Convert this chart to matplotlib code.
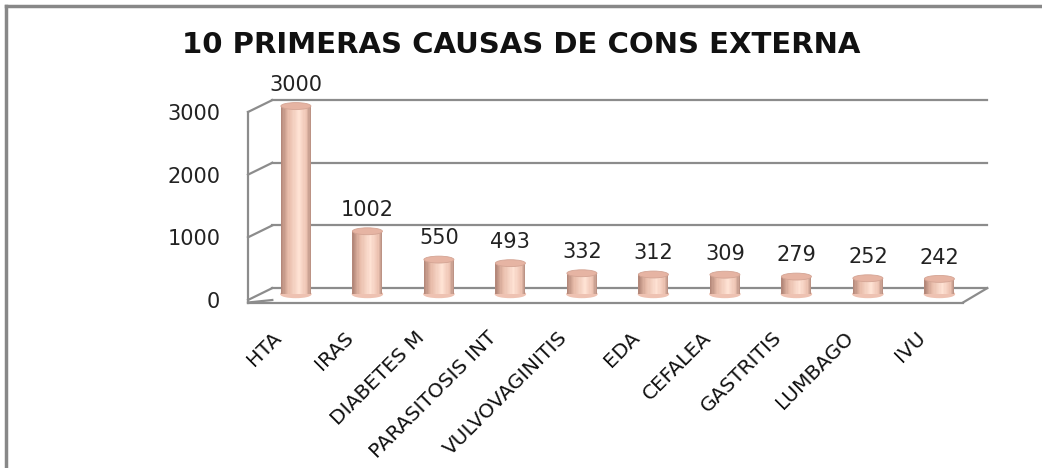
import numpy as np
import matplotlib.pyplot as plt
from matplotlib.patches import Ellipse
from matplotlib.lines import Line2D
from matplotlib.colors import LinearSegmentedColormap
from matplotlib.transforms import ScaledTranslation

# datos
causas = ['HTA', 'IRAS', 'DIABETES M', 'PARASITOSIS INT', 'VULVOVAGINITIS',
          'EDA', 'CEFALEA', 'GASTRITIS', 'LUMBAGO', 'IVU']
casos = [3000, 1002, 550, 493, 332, 312, 309, 279, 252, 242]
y_ticks = [0, 1000, 2000, 3000]
titulo = '10 PRIMERAS CAUSAS DE CONS EXTERNA'

# profundidad del efecto 3D (en unidades de datos)
DX = 0.34
DY = 190
ANCHO = 0.42
GRIS = '#8c8c8c'

plt.rcParams['font.family'] = ['DejaVu Sans']

fig = plt.figure(figsize=(10.42, 4.68), dpi=100)
ax = fig.add_axes([248 / 1042, 168 / 468, 715 / 1042, 188 / 468])
ax.set_xlim(-0.5, 9.5)
ax.set_ylim(0, 3000)
for s in ax.spines.values():
    s.set_visible(False)

n = len(causas)
x = np.arange(n)
x0, x1 = -0.5, n - 0.5

# paredes: rejilla del fondo y pared izquierda
for v in y_ticks:
    ax.plot([x0 + DX, x1 + DX], [v + DY, v + DY], color=GRIS, lw=1.6, clip_on=False)
    ax.plot([x0, x0 + DX], [v, v + DY], color=GRIS, lw=1.6, clip_on=False)
ax.plot([x0, x0], [-40, 3000], color=GRIS, lw=1.6, clip_on=False)
# piso
ax.plot([x0, x1], [-40, -40], color=GRIS, lw=1.6, clip_on=False)
ax.plot([x1, x1 + DX], [-40, DY], color=GRIS, lw=1.6, clip_on=False)
ax.plot([x0, x0 + DX], [-40, 0], color=GRIS, lw=1.6, clip_on=False)

# cilindros con sombreado
cmap = LinearSegmentedColormap.from_list(
    'cil', [(0.0, '#b08476'), (0.25, '#e8bcaa'), (0.6, '#fee2d4'),
            (0.85, '#eec4b3'), (1.0, '#b48c7e')])
tiras = 24
bx = x + DX / 2
base = DY / 2
for k in range(tiras):
    off = -ANCHO / 2 + (k + 0.5) * ANCHO / tiras
    ax.bar(bx + off, casos, width=ANCHO / tiras * 1.05, bottom=base,
           color=cmap((k + 0.5) / tiras), linewidth=0, clip_on=False, zorder=3)
for xi, v in zip(bx, casos):
    ax.add_patch(Ellipse((xi, base), ANCHO, 110, color='#eec2b2', zorder=2.9, clip_on=False))
    ax.add_patch(Ellipse((xi, v + base), ANCHO, 110, facecolor='#e6b4a3',
                         edgecolor='#d4a494', lw=0.6, zorder=4, clip_on=False))
    ax.annotate(str(v), (xi, v + base), xytext=(0, 8), textcoords='offset points',
                ha='center', va='bottom', fontsize=15, color='#222222',
                annotation_clip=False)

ax.set_yticks(y_ticks)
ax.set_yticklabels([str(v) for v in y_ticks], fontsize=15, color='#222222')
ax.set_xticks(x)
ax.set_xticklabels(causas, rotation=45, ha='right', va='center',
                   rotation_mode='anchor', fontsize=14.5, color='#111111')
ax.tick_params(axis='both', length=0)
ax.tick_params(axis='y', pad=20)
ax.tick_params(axis='x', pad=25)
desplaza = ScaledTranslation(-5 / 100, 0, fig.dpi_scale_trans)
for lab in ax.get_xticklabels():
    lab.set_transform(lab.get_transform() + desplaza)
ax.patch.set_alpha(0)

fig.text(0.5, 1 - 45 / 468, titulo, ha='center', va='center',
         fontsize=21, fontweight='bold', color='#111111')

# marco del grafico
fig.add_artist(Line2D([6 / 1042, 6 / 1042], [0, 1 - 6 / 468], color='#888888', lw=2.5))
fig.add_artist(Line2D([6 / 1042, 1], [1 - 6 / 468, 1 - 6 / 468], color='#888888', lw=2.5))

fig.savefig('out.png', dpi=100)
